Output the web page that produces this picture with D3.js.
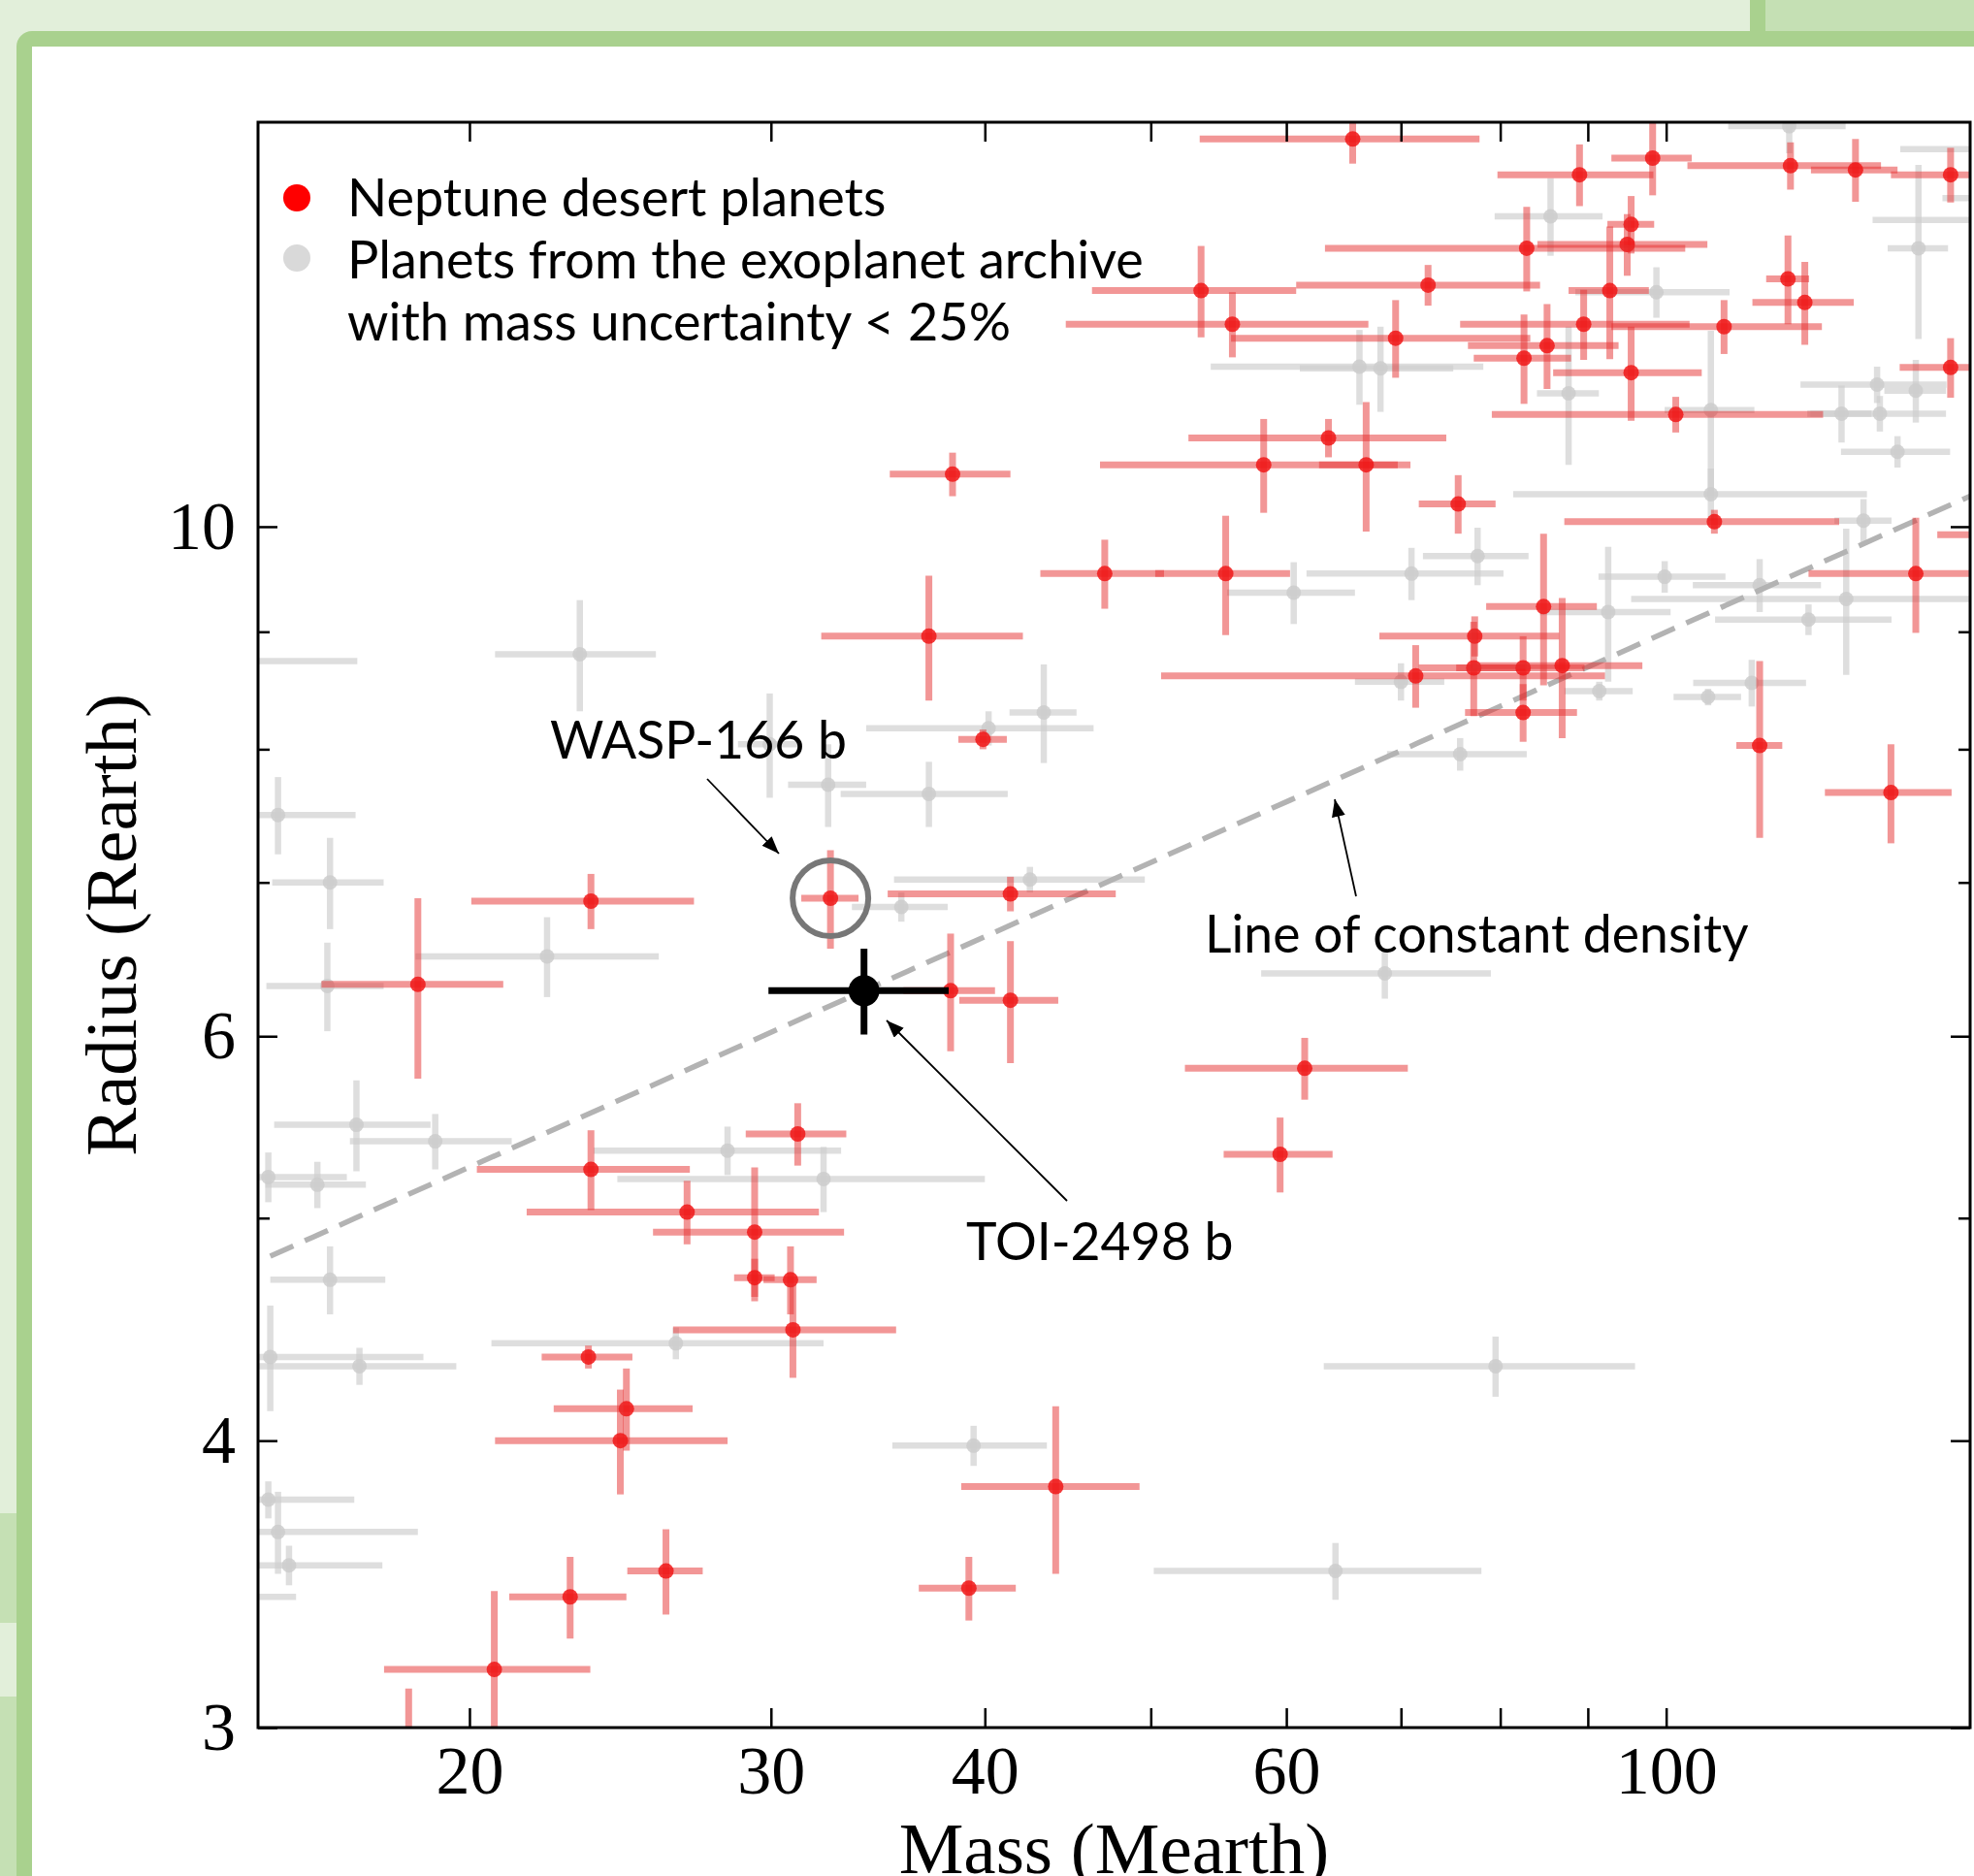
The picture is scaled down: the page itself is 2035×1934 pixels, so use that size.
<!DOCTYPE html>
<html>
<head>
<meta charset="utf-8">
<script src="https://cdn.jsdelivr.net/npm/d3@7"></script>
<style>
  body { margin: 0; background: #e2efda; overflow: hidden; }
  svg { display: block; }
</style>
</head>
<body>
<script>
// each planet: [mass, massErr, radius, radiusErr] in Earth units
const desertPlanets = [
  [65.6, 12.2, 14.75, 0.36], [89.0, 9.3, 14.23, 0.44], [98.2, 5.3, 14.47, 0.53],
  [118.2, 15.3, 14.36, 0.34], [129.0, 7.5, 14.30, 0.45], [146.6, 11.3, 14.23, 0.39],
  [95.4, 3.0, 13.54, 0.39], [94.9, 10.8, 13.27, 0.41], [82.9, 19.7, 13.22, 0.56],
  [72.6, 11.8, 12.74, 0.26], [53.5, 7.3, 12.67, 0.58], [55.8, 11.2, 12.25, 0.40],
  [69.5, 13.8, 12.08, 0.47], [92.7, 5.0, 12.67, 0.84], [89.5, 13.7, 12.25, 0.43],
  [85.2, 8.6, 11.99, 0.51], [82.6, 5.4, 11.84, 0.53], [95.4, 9.5, 11.67, 0.55],
  [108.1, 15.2, 12.22, 0.33], [117.8, 3.4, 12.82, 0.57], [120.5, 8.2, 12.52, 0.52],
  [146.6, 9.7, 11.73, 0.35], [101.3, 22.2, 11.19, 0.20], [63.5, 10.9, 10.93, 0.21],
  [58.2, 11.5, 10.64, 0.50], [66.8, 4.1, 10.64, 0.69], [75.6, 3.9, 10.23, 0.30],
  [106.7, 19.5, 10.05, 0.12], [47.0, 3.9, 9.54, 0.33], [55.3, 5.0, 9.54, 0.57],
  [139.9, 18.8, 9.54, 0.55], [84.8, 6.3, 9.23, 0.70], [77.3, 9.3, 8.96, 0.18],
  [71.4, 20.7, 8.61, 0.27], [77.2, 5.5, 8.68, 0.41], [82.5, 7.1, 8.68, 0.28],
  [86.95, 9.9, 8.70, 0.61], [82.5, 6.2, 8.30, 0.24], [113.4, 3.5, 8.03, 0.71],
  [135.3, 11.5, 7.66, 0.38], [38.3, 3.1, 10.54, 0.23], [37.1, 5.0, 8.96, 0.56],
  [39.9, 1.3, 8.08, 0.08], [23.55, 3.5, 6.87, 0.19], [41.4, 6.3, 6.92, 0.12],
  [18.66, 2.27, 6.32, 0.57], [38.2, 2.35, 6.28, 0.37], [41.4, 2.75, 6.22, 0.38],
  [61.5, 9.15, 5.81, 0.18], [59.5, 4.35, 5.33, 0.20], [31.1, 2.1, 5.44, 0.17],
  [23.55, 3.35, 5.25, 0.21], [26.8, 5.2, 5.03, 0.16], [29.35, 3.75, 4.93, 0.33],
  [29.35, 0.8, 4.71, 0.09], [30.8, 1.1, 4.70, 0.16], [30.9, 4.6, 4.47, 0.21],
  [23.47, 1.43, 4.35, 0.05], [24.7, 2.3, 4.13, 0.17], [24.5, 3.8, 4.0, 0.21],
  [26.05, 1.32, 3.51, 0.15], [22.9, 1.8, 3.42, 0.14], [39.15, 2.55, 3.45, 0.11],
  [44.0, 5.25, 3.82, 0.32], [20.68, 2.85, 3.18, 0.26], [18.43, 1.5, 2.85, 0.27],
  [158, 14, 9.92, 0.15]
];

const archivePlanets = [
  [23.2, 2.5, 8.80, 0.49], [14.6, 2.6, 8.74, 0.10], [15.46, 1.7, 7.49, 0.29],
  [16.58, 1.24, 7.0, 0.32], [22.2, 3.6, 6.50, 0.26], [16.52, 1.3, 6.31, 0.28],
  [29.95, 1.25, 8.04, 0.42], [32.4, 1.7, 7.72, 0.32], [37.1, 4.15, 7.65, 0.25],
  [17.18, 1.8, 5.49, 0.25], [19.1, 2.07, 5.40, 0.15], [15.26, 1.7, 5.21, 0.13],
  [16.3, 1.1, 5.17, 0.12], [28.3, 4.67, 5.35, 0.13], [32.2, 7.8, 5.20, 0.17],
  [16.58, 1.28, 4.70, 0.16], [15.3, 3.5, 4.35, 0.23], [17.25, 2.4, 4.31, 0.08],
  [26.4, 5.8, 4.41, 0.07], [15.46, 3.2, 3.65, 0.15], [15.26, 1.87, 3.77, 0.07],
  [15.69, 2.1, 3.53, 0.07], [14.2, 1.64, 3.42, 0.05], [39.4, 4.08, 3.98, 0.08],
  [64.1, 13.9, 3.51, 0.10], [79.5, 16.4, 4.31, 0.13], [68.5, 10.5, 6.39, 0.16],
  [43.3, 1.95, 8.30, 0.41], [40.2, 6.1, 8.17, 0.14], [42.5, 7.1, 7.02, 0.09],
  [35.75, 2.3, 6.83, 0.10], [71.0, 9.35, 9.54, 0.25], [60.6, 5.2, 9.36, 0.29],
  [77.6, 5.5, 9.71, 0.28], [70.0, 4.2, 8.56, 0.16], [75.8, 7.1, 7.96, 0.13],
  [99.8, 8.5, 9.51, 0.15], [113.4, 9.75, 9.43, 0.25], [127.4, 32, 9.30, 0.68],
  [121.1, 14.3, 9.11, 0.14], [92.5, 8.1, 9.18, 0.62], [91.4, 4.2, 8.48, 0.08],
  [105.8, 4.8, 8.43, 0.07], [112.2, 8.5, 8.55, 0.2], [130.4, 5, 10.06, 0.22],
  [106.2, 24.8, 10.33, 0.27], [106.2, 6.4, 11.24, 0.93], [87.7, 3.65, 11.43, 0.79],
  [85.6, 6.2, 13.65, 0.53], [98.7, 10.2, 12.65, 0.32], [118.0, 9.3, 14.94, 0.4],
  [140.4, 5.7, 13.22, 1.15], [132.8, 13, 11.53, 0.21], [133.3, 12.4, 11.20, 0.2],
  [126.6, 5.2, 11.20, 0.32], [139.9, 5.8, 11.46, 0.36], [136.5, 10, 10.78, 0.17],
  [66.2, 12, 11.74, 0.44], [68.1, 7, 11.72, 0.5], [160, 23, 14.6, 0.2],
  [158, 26, 13.6, 0.2], [160, 15, 13.9, 0.2]
];

const wasp166b = [32.5, 1.25, 6.89, 0.34];
const toi2498b = [34.0, 4.1, 6.28, 0.27];

const massTicks = [20, 30, 40, 50, 60, 70, 80, 90, 100];
const massTickLabels = [20, 30, 40, 60, 100];
const radiusTicks = [3, 4, 5, 6, 7, 8, 9, 10];
const radiusTickLabels = [3, 4, 6, 10];
const massDomain = [15.05, 150.5];
const radiusDomain = [3, 15];
const densityMassRange = [15.3, 150.5];

const legendLabels = ["Neptune desert planets", "Planets from the exoplanet archive", "with mass uncertainty < 25%"];

const W = 2035, H = 1934;
const plot = {left: 266, top: 126, right: 2031, bottom: 1781};
const serif = "'Liberation Serif', 'Times New Roman', serif";
const sans = "Lato, 'Open Sans', sans-serif";

const svg = d3.select("body").append("svg")
    .attr("width", W)
    .attr("height", H);

// slide background and green frame
svg.append("rect").attr("width", W).attr("height", H).attr("fill", "#e2efda");
svg.append("rect").attr("x", 1820).attr("y", 0).attr("width", 215).attr("height", 32).attr("fill", "#c5e0b4");
svg.append("rect").attr("x", 1804).attr("y", 0).attr("width", 16).attr("height", 32).attr("fill", "#a9d18e");
svg.append("rect").attr("x", 0).attr("y", 1560).attr("width", 17).attr("height", 113).attr("fill", "#c5e0b4");
svg.append("rect").attr("x", 0).attr("y", 1749).attr("width", 17).attr("height", 185).attr("fill", "#c5e0b4");
svg.append("rect").attr("x", 17).attr("y", 32).attr("width", 2100).attr("height", 2000).attr("rx", 16).attr("fill", "#a9d18e");
svg.append("rect").attr("x", 33).attr("y", 48).attr("width", 2100).attr("height", 2000).attr("fill", "#fff");

const x = d3.scaleLog().domain(massDomain).range([plot.left, plot.right]);
const y = d3.scaleLog().domain(radiusDomain).range([plot.bottom, plot.top]);

svg.append("defs").append("clipPath").attr("id", "plotClip")
  .append("rect")
    .attr("x", plot.left).attr("y", plot.top)
    .attr("width", plot.right - plot.left).attr("height", plot.bottom - plot.top);

const dataLayer = svg.append("g").attr("clip-path", "url(#plotClip)");

function drawPlanets(data, opts) {
    const g = dataLayer.append("g");
    const pts = g.selectAll("g").data(data).enter().append("g");
    pts.append("line")
        .attr("x1", d => x(Math.max(d[0] - d[1], 1)))
        .attr("x2", d => x(d[0] + d[1]))
        .attr("y1", d => y(d[2]))
        .attr("y2", d => y(d[2]))
        .attr("stroke", opts.bar).attr("stroke-opacity", opts.barOpacity)
        .attr("stroke-width", opts.barWidth);
    pts.append("line")
        .attr("x1", d => x(d[0]))
        .attr("x2", d => x(d[0]))
        .attr("y1", d => y(d[2] - d[3]))
        .attr("y2", d => y(d[2] + d[3]))
        .attr("stroke", opts.bar).attr("stroke-opacity", opts.barOpacity)
        .attr("stroke-width", opts.barWidth);
    pts.append("circle")
        .attr("cx", d => x(d[0]))
        .attr("cy", d => y(d[2]))
        .attr("r", opts.r)
        .attr("fill", opts.dot).attr("fill-opacity", opts.dotOpacity);
}

drawPlanets(archivePlanets, {bar: "#cdcdcd", barOpacity: 0.65, barWidth: 6.5, dot: "#cccccc", dotOpacity: 0.85, r: 7.5});

// line of constant density through TOI-2498 b (R ~ M^(1/3))
const densityPts = d3.range(0, 41).map(i => {
    const m = densityMassRange[0] * Math.pow(densityMassRange[1] / densityMassRange[0], i / 40);
    return [m, toi2498b[2] * Math.cbrt(m / toi2498b[0])];
});
dataLayer.append("path")
    .datum(densityPts)
    .attr("d", d3.line().x(d => x(d[0])).y(d => y(d[1])))
    .attr("fill", "none")
    .attr("stroke", "#b3b3b3")
    .attr("stroke-width", 5.5)
    .attr("stroke-dasharray", "26,13");

drawPlanets(desertPlanets.concat([wasp166b]), {bar: "#e62e2e", barOpacity: 0.5, barWidth: 7, dot: "#f01818", dotOpacity: 0.85, r: 8});
drawPlanets([toi2498b], {bar: "#000", barOpacity: 1, barWidth: 7, dot: "#000", dotOpacity: 1, r: 16});

// axes, ticks pointing inward
function styleAxis(g) {
    g.select(".domain").remove();
    g.selectAll(".tick line").attr("stroke", "#000").attr("stroke-width", 2.5);
    g.selectAll("text")
        .attr("font-family", serif)
        .attr("font-size", 70)
        .attr("fill", "#000");
}

const labelOr = (labels) => (d => labels.includes(d) ? d : "");

svg.append("g")
    .attr("transform", `translate(0,${plot.bottom})`)
    .call(d3.axisBottom(x).tickValues(massTicks).tickFormat(labelOr(massTickLabels))
        .tickSizeInner(-20).tickSizeOuter(0).tickPadding(18))
    .call(styleAxis);

svg.append("g")
    .attr("transform", `translate(0,${plot.top})`)
    .call(d3.axisTop(x).tickValues(massTicks).tickFormat("").tickSizeInner(-20).tickSizeOuter(0))
    .call(styleAxis);

const leftAxis = svg.append("g")
    .attr("transform", `translate(${plot.left},0)`)
    .call(d3.axisLeft(y).tickValues(radiusTicks).tickFormat(labelOr(radiusTickLabels))
        .tickSizeInner(-20).tickSizeOuter(0).tickPadding(23))
    .call(styleAxis);
leftAxis.selectAll(".tick line").attr("x2", d => radiusTickLabels.includes(d) ? 20 : 12);

const rightAxis = svg.append("g")
    .attr("transform", `translate(${plot.right},0)`)
    .call(d3.axisRight(y).tickValues(radiusTicks).tickFormat("").tickSizeInner(-20).tickSizeOuter(0))
    .call(styleAxis);
rightAxis.selectAll(".tick line").attr("x2", d => radiusTickLabels.includes(d) ? -20 : -12);

svg.append("rect")
    .attr("x", plot.left).attr("y", plot.top)
    .attr("width", plot.right - plot.left).attr("height", plot.bottom - plot.top)
    .attr("fill", "none").attr("stroke", "#000").attr("stroke-width", 3);

svg.append("text")
    .attr("x", (plot.left + plot.right) / 2).attr("y", 1931)
    .attr("text-anchor", "middle")
    .attr("font-family", serif).attr("font-size", 75)
    .text("Mass (Mearth)");

svg.append("text")
    .attr("transform", `translate(140,${(plot.top + plot.bottom) / 2}) rotate(-90)`)
    .attr("text-anchor", "middle")
    .attr("font-family", serif).attr("font-size", 75)
    .text("Radius (Rearth)");

// legend
const legend = svg.append("g").attr("font-family", sans).attr("font-size", 54);
legend.append("circle").attr("cx", 306).attr("cy", 204).attr("r", 14).attr("fill", "#ff0000");
legend.append("circle").attr("cx", 306).attr("cy", 266).attr("r", 14).attr("fill", "#d9d9d9");
legend.selectAll("text").data(legendLabels).enter().append("text")
    .attr("x", 358)
    .attr("y", (d, i) => 223 + i * 64)
    .text(d => d);

// annotations
svg.append("defs").append("marker")
    .attr("id", "arrow")
    .attr("markerUnits", "userSpaceOnUse")
    .attr("markerWidth", 20).attr("markerHeight", 16)
    .attr("refX", 18).attr("refY", 7)
    .attr("orient", "auto")
  .append("path")
    .attr("d", "M0,0 L18,7 L0,14 Z")
    .attr("fill", "#000");

svg.append("circle")
    .attr("cx", x(wasp166b[0])).attr("cy", y(wasp166b[2]))
    .attr("r", 39)
    .attr("fill", "none").attr("stroke", "#777").attr("stroke-width", 6);

const notes = [
    {text: "WASP-166 b", tx: 567, ty: 782, from: [729, 803], to: [803, 880]},
    {text: "TOI-2498 b", tx: 996, ty: 1299, from: [1100, 1238], to: [914, 1052]},
    {text: "Line of constant density", tx: 1242, ty: 982, from: [1398, 924], to: [1376, 824]}
];

const noteG = svg.append("g");
noteG.selectAll("text").data(notes).enter().append("text")
    .attr("x", d => d.tx).attr("y", d => d.ty)
    .attr("font-family", sans).attr("font-size", 53.5)
    .text(d => d.text);
noteG.selectAll("line").data(notes).enter().append("line")
    .attr("x1", d => d.from[0]).attr("y1", d => d.from[1])
    .attr("x2", d => d.to[0]).attr("y2", d => d.to[1])
    .attr("stroke", "#000").attr("stroke-width", 1.8)
    .attr("marker-end", "url(#arrow)");
</script>
</body>
</html>
